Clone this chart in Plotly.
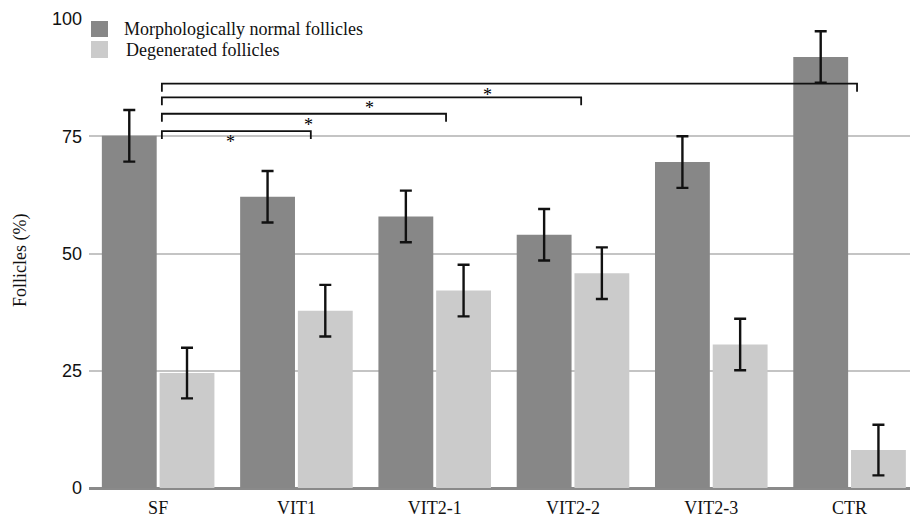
import plotly.graph_objects as go

categories = ["SF", "VIT1", "VIT2-1", "VIT2-2", "VIT2-3", "CTR"]
normal = [75.1, 62.1, 57.9, 54.0, 69.5, 91.9]
normal_err = [5.5, 5.5, 5.5, 5.5, 5.5, 5.5]
degenerated = [24.5, 37.8, 42.1, 45.8, 30.6, 8.1]
degenerated_err = [5.4, 5.5, 5.5, 5.5, 5.5, 5.4]
series_names = ["Morphologically normal follicles", "Degenerated follicles"]
y_ticks = [0, 25, 50, 75, 100]

# significance brackets: (left x, right x, y level, star x)
brackets = [
    (0.027, 1.104, 76.1, 0.52),
    (0.027, 2.082, 79.8, 1.09),
    (0.027, 3.059, 83.3, 1.526),
    (0.027, 5.054, 86.2, 2.38),
]

DARK = "#878787"
LIGHT = "#cbcbcb"
SERIF = "Liberation Serif, Times New Roman, serif"
SANS = "Liberation Sans, Arial, Helvetica, sans-serif"

W, H = 910, 518
L, R, T, B = 89, 0, 19, 30
PW, PH = W - L - R, H - T - B


def px(x):
    return (x - L) / PW


def py(y):
    return (H - B - y) / PH


err_style = dict(type="data", visible=True, color="#111111", thickness=2.4, width=6)

fig = go.Figure()
fig.add_trace(go.Bar(
    x=categories, y=normal, name=series_names[0], marker=dict(color=DARK, line=dict(width=0)),
    error_y=dict(array=normal_err, **err_style), showlegend=False,
))
fig.add_trace(go.Bar(
    x=categories, y=degenerated, name=series_names[1], marker=dict(color=LIGHT, line=dict(width=0)),
    error_y=dict(array=degenerated_err, **err_style), showlegend=False,
))

shapes = []
annotations = []
tick = 1.7
for x0, x1, yv, xs in brackets:
    shapes.append(dict(
        type="path", xref="x", yref="y",
        path=f"M {x0},{yv - tick} L {x0},{yv} L {x1},{yv} L {x1},{yv - tick}",
        line=dict(color="#111111", width=1.8),
    ))
    annotations.append(dict(
        x=xs, y=yv, xref="x", yref="y", text="*", showarrow=False,
        xanchor="center", yanchor="top", yshift=1,
        font=dict(family=SERIF, size=18, color="#000000"),
    ))

# custom legend
leg = [(21, 37, DARK, series_names[0], 122), (41, 58, LIGHT, series_names[1], 124)]
for y0, y1, col, name, tx in leg:
    shapes.append(dict(
        type="rect", xref="paper", yref="paper",
        x0=px(91), x1=px(108), y0=py(y1), y1=py(y0),
        fillcolor=col, line=dict(width=0), layer="above",
    ))
    annotations.append(dict(
        x=px(tx), y=py((y0 + y1) / 2), xref="paper", yref="paper", text=name,
        showarrow=False, xanchor="left", yanchor="middle",
        font=dict(family=SERIF, size=18, color="#111111"),
    ))

annotations.append(dict(
    x=0, y=py(261), xref="paper", yref="paper", text="Follicles (%)",
    textangle=-90, showarrow=False, xanchor="center", yanchor="middle", xshift=-(L - 20),
    font=dict(family=SERIF, size=18, color="#111111"),
))

fig.update_layout(
    width=W, height=H,
    margin=dict(l=L, r=R, t=T, b=B, pad=0),
    paper_bgcolor="white", plot_bgcolor="white",
    barmode="group", bargap=0.165, bargroupgap=0.05,
    shapes=shapes, annotations=annotations,
    showlegend=False,
    xaxis=dict(
        type="category", range=[-0.5, 5.437], showgrid=False,
        showline=False, ticks="", zeroline=False,
        tickfont=dict(family=SERIF, size=18, color="#111111"),
        ticklabelstandoff=7,
    ),
    yaxis=dict(
        range=[0, 100], tickvals=y_ticks, showgrid=True, gridcolor="#c4c4c4", gridwidth=1.8,
        zeroline=True, zerolinecolor="#8a8a8a", zerolinewidth=2.5,
        showline=False, ticks="",
        tickfont=dict(family=SANS, size=18, color="#111111"),
        ticklabelstandoff=6,
    ),
)

fig.write_html("out.html")
